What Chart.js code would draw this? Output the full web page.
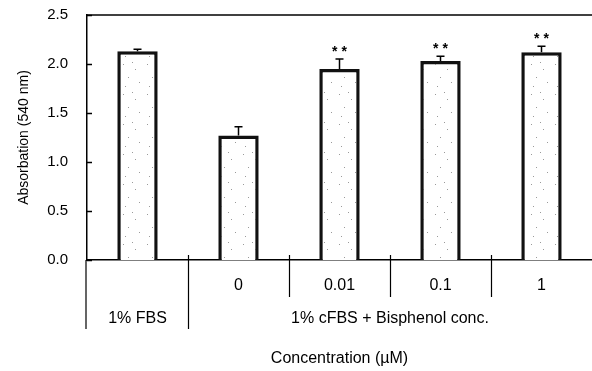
<!DOCTYPE html>
<html>
<head>
<meta charset="utf-8">
<script src="https://cdn.jsdelivr.net/npm/chart.js@4"></script>
<style>
  body { margin: 0; background: #fff; }
  #wrap { width: 592px; height: 371px; }
</style>
</head>
<body>
<div id="wrap"><canvas id="myChart"></canvas></div>
<script>
// data
var doseLabels = ['', '0', '0.01', '0.1', '1'];
var groupLabels = ['1% FBS', '1% cFBS + Bisphenol conc.'];
var groupSpans = [[0, 0], [1, 4]];
var means = [2.13, 1.27, 1.95, 2.03, 2.12];
var errors = [0.02, 0.09, 0.10, 0.05, 0.06];
var marks = ['', '', '**', '**', '**'];
var yTicks = [0, 0.5, 1.0, 1.5, 2.0, 2.5];

var FONT = "'Liberation Sans', Arial, sans-serif";

// stippled bar fill
function stipple() {
  var c = document.createElement('canvas');
  c.width = 24; c.height = 30;
  var g = c.getContext('2d');
  g.fillStyle = '#ffffff';
  g.fillRect(0, 0, 24, 30);
  g.fillStyle = '#9a9a9a';
  [[3, 4], [15, 9], [8, 17], [19, 22], [5, 26], [12, 2]].forEach(function (p) {
    g.fillRect(p[0], p[1], 1, 1);
  });
  return g.createPattern(c, 'repeat');
}

var extras = {
  id: 'extras',
  afterDatasetsDraw: function (chart) {
    var ctx = chart.ctx, x = chart.scales.x, y = chart.scales.y;
    var area = chart.chartArea;
    ctx.save();
    ctx.strokeStyle = '#000';
    ctx.fillStyle = '#000';

    // error bars (upper half only) and significance marks
    ctx.lineWidth = 1.5;
    means.forEach(function (m, i) {
      var cx = x.getPixelForValue(i);
      var top = y.getPixelForValue(m + errors[i]);
      var base = y.getPixelForValue(m);
      ctx.beginPath();
      ctx.moveTo(cx, base);
      ctx.lineTo(cx, top);
      ctx.moveTo(cx - 4, top);
      ctx.lineTo(cx + 4, top);
      ctx.stroke();
      if (marks[i]) {
        ctx.font = 'bold 14px ' + FONT;
        ctx.textAlign = 'center';
        ctx.textBaseline = 'alphabetic';
        ctx.fillText(marks[i].split('').join(' '), cx, top - 3);
      }
    });

    // top frame line
    ctx.lineWidth = 1.5;
    ctx.beginPath();
    ctx.moveTo(area.left, area.top);
    ctx.lineTo(area.right, area.top);
    ctx.stroke();

    // inward y tick marks
    yTicks.forEach(function (v) {
      var py = Math.round(y.getPixelForValue(v)) + 0.5;
      ctx.beginPath();
      ctx.moveTo(area.left, py);
      ctx.lineTo(area.left + 5, py);
      ctx.stroke();
    });

    // x category labels
    ctx.font = '16px ' + FONT;
    ctx.textAlign = 'center';
    ctx.textBaseline = 'middle';
    doseLabels.forEach(function (t, i) {
      if (t) ctx.fillText(t, x.getPixelForValue(i), area.bottom + 26);
    });

    // group labels
    groupLabels.forEach(function (t, g) {
      var a = x.getPixelForValue(groupSpans[g][0]);
      var b = x.getPixelForValue(groupSpans[g][1]);
      ctx.fillText(t, (a + b) / 2, area.bottom + 59);
    });

    // separators
    ctx.lineWidth = 1.2;
    var half = (x.getPixelForValue(1) - x.getPixelForValue(0)) / 2;
    ctx.beginPath();
    ctx.moveTo(area.left - 1, area.bottom);
    ctx.lineTo(area.left - 1, area.bottom + 69);
    for (var i = 0; i < doseLabels.length - 1; i++) {
      var sx = Math.round(x.getPixelForValue(i) + half) + 0.5;
      var groupEdge = groupSpans.some(function (s) { return s[1] === i; });
      ctx.moveTo(sx, area.bottom - 5);
      ctx.lineTo(sx, area.bottom + (groupEdge ? 69 : 37));
    }
    ctx.stroke();
    ctx.restore();
  }
};

var ctx = document.getElementById('myChart').getContext('2d');

var myChart = new Chart(ctx, {
  type: 'bar',
  data: {
    labels: doseLabels.map(function (d, i) { return i === 0 ? groupLabels[0] : d; }),
    datasets: [{
      data: means,
      backgroundColor: stipple(),
      borderColor: '#111',
      borderWidth: 3.5,
      barPercentage: 0.4,
      categoryPercentage: 1.0
    }]
  },
  options: {
    responsive: true,
    maintainAspectRatio: false,
    animation: false,
    layout: { padding: { top: 15, right: 0, bottom: 0, left: 0 } },
    plugins: { legend: { display: false }, tooltip: { enabled: false } },
    scales: {
      x: {
        grid: { display: false },
        border: { display: true, color: '#000', width: 1.5 },
        ticks: { display: false },
        afterFit: function (s) {
          s.height = 111;
          s.paddingLeft = 0; s.paddingRight = 0;
        },
        title: {
          display: true,
          text: 'Concentration (\u00b5M)',
          color: '#000',
          font: { family: FONT, size: 16 },
          padding: { top: 0, bottom: 3 }
        }
      },
      y: {
        min: 0,
        max: 2.5,
        grid: { display: false, drawTicks: false },
        border: { display: true, color: '#000', width: 1.5 },
        afterFit: function (s) {
          s.width = 87;
          s.paddingTop = 0; s.paddingBottom = 0;
        },
        afterBuildTicks: function (s) {
          s.ticks = yTicks.map(function (v) { return { value: v }; });
        },
        ticks: {
          color: '#000',
          padding: 19,
          font: { family: FONT, size: 15 },
          callback: function (v) { return Number(v).toFixed(1); }
        },
        title: {
          display: true,
          text: 'Absorbation (540 nm)',
          color: '#000',
          font: { family: FONT, size: 14 },
          padding: { top: 16, bottom: 0 }
        }
      }
    }
  },
  plugins: [extras]
});
</script>
</body>
</html>
